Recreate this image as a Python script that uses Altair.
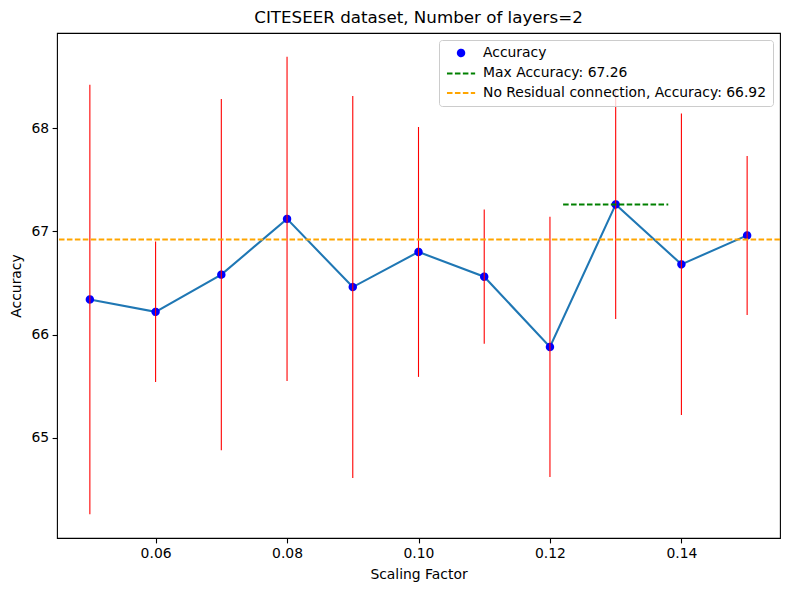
import altair as alt
import pandas as pd

# ---- data ----
factors = [0.05, 0.06, 0.07, 0.08, 0.09, 0.10, 0.11, 0.12, 0.13, 0.14, 0.15]
accuracy = [66.34, 66.22, 66.58, 67.12, 66.46, 66.80, 66.56, 65.88, 67.26, 66.68, 66.96]
std_dev = [2.08, 0.68, 1.70, 1.57, 1.85, 1.21, 0.65, 1.26, 1.11, 1.46, 0.77]

max_acc = 67.26
max_x = 0.13
max_halfwidth = 0.008
no_res_acc = 66.92

series_names = ["Accuracy", "Max Accuracy: 67.26", "No Residual connection, Accuracy: 66.92"]
series_stroke = ["blue", "green", "orange"]
series_fill = ["blue", "transparent", "transparent"]

x_ticks = [0.06, 0.08, 0.10, 0.12, 0.14]
y_ticks = [65, 66, 67, 68]
x_domain = [0.045, 0.155]
y_domain = [64.03, 68.92]

FONT = "DejaVu Sans"

df = pd.DataFrame({"x": factors, "acc": accuracy, "std": std_dev})
df["lo"] = df["acc"] - df["std"]
df["hi"] = df["acc"] + df["std"]
df["series"] = series_names[0]

max_df = pd.DataFrame({"x": [max_x - max_halfwidth], "x2": [max_x + max_halfwidth],
                       "y": [max_acc], "series": [series_names[1]]})
nores_df = pd.DataFrame({"y": [no_res_acc], "series": [series_names[2]]})

xs = alt.Scale(domain=x_domain, nice=False, zero=False)
ys = alt.Scale(domain=y_domain, nice=False, zero=False)

x_axis = alt.Axis(values=x_ticks, format=".2f", title="Scaling Factor", grid=False,
                  tickSize=4.9, labelPadding=3.5, titlePadding=7)
y_axis = alt.Axis(values=y_ticks, format="d", title="Accuracy", grid=False,
                  tickSize=4.9, labelPadding=3.5, titlePadding=7)

dash_scale = alt.Scale(domain=series_names, range=[[1, 0], [5.55, 2.4], [5.55, 2.4]])
stroke_scale = alt.Scale(domain=series_names, range=series_stroke)
fill_scale = alt.Scale(domain=series_names, range=series_fill)
line_path = "M-4.4,0H4.4"
shape_scale = alt.Scale(domain=series_names, range=["circle", line_path, line_path])

legend = alt.Legend(title=None, orient="top-right", offset=6.7,
                    fillColor="rgba(255,255,255,0.8)", strokeColor="#cccccc",
                    cornerRadius=3, padding=6, rowPadding=4.5, labelOffset=15,
                    symbolOffset=9.1, symbolSize=41,
                    symbolStrokeWidth=2, labelFontSize=13.9, labelFont=FONT,
                    labelColor="black", labelLimit=400)

base = alt.Chart(df)

line = base.mark_line(color="#1f77b4", strokeWidth=2.08).encode(
    x=alt.X("x:Q", scale=xs, axis=x_axis),
    y=alt.Y("acc:Q", scale=ys, axis=y_axis),
)

points = base.mark_point(size=41, strokeWidth=2, opacity=1).encode(
    x=alt.X("x:Q", scale=xs),
    y=alt.Y("acc:Q", scale=ys),
    fill=alt.Fill("series:N", scale=fill_scale, legend=legend),
    stroke=alt.Stroke("series:N", scale=stroke_scale, legend=legend),
    shape=alt.Shape("series:N", scale=shape_scale, legend=legend),
    strokeDash=alt.StrokeDash("series:N", scale=dash_scale, legend=legend),
)

errbars = base.mark_rule(color="red", strokeWidth=1.1).encode(
    x=alt.X("x:Q", scale=xs),
    y=alt.Y("lo:Q", scale=ys),
    y2="hi:Q",
)

max_rule = alt.Chart(max_df).mark_rule(strokeWidth=2.08).encode(
    x=alt.X("x:Q", scale=xs),
    x2="x2:Q",
    y=alt.Y("y:Q", scale=ys),
    stroke=alt.Stroke("series:N", scale=stroke_scale, legend=None),
    strokeDash=alt.StrokeDash("series:N", scale=dash_scale, legend=None),
)

nores_rule = alt.Chart(nores_df).mark_rule(strokeWidth=2.08).encode(
    y=alt.Y("y:Q", scale=ys),
    stroke=alt.Stroke("series:N", scale=stroke_scale, legend=None),
    strokeDash=alt.StrokeDash("series:N", scale=dash_scale, legend=None),
)

chart = alt.layer(line, points, errbars, max_rule, nores_rule).properties(
    width=723,
    height=505,
    title=alt.TitleParams("CITESEER dataset, Number of layers=2", fontSize=16.7,
                          font=FONT, fontWeight="normal", color="black",
                          anchor="middle", offset=6),
    autosize=alt.AutoSizeParams(type="none"),
    padding={"left": 49, "top": 25, "right": 1, "bottom": 44},
).configure_view(
    stroke="black", strokeWidth=1.1
).configure_axis(
    domain=False, tickColor="black", tickWidth=1.1,
    labelFont=FONT, labelFontSize=13.9, labelColor="black",
    titleFont=FONT, titleFontSize=13.9, titleColor="black", titleFontWeight="normal",
)

chart.save("out.html", embed_options={"renderer": "svg", "actions": False})
